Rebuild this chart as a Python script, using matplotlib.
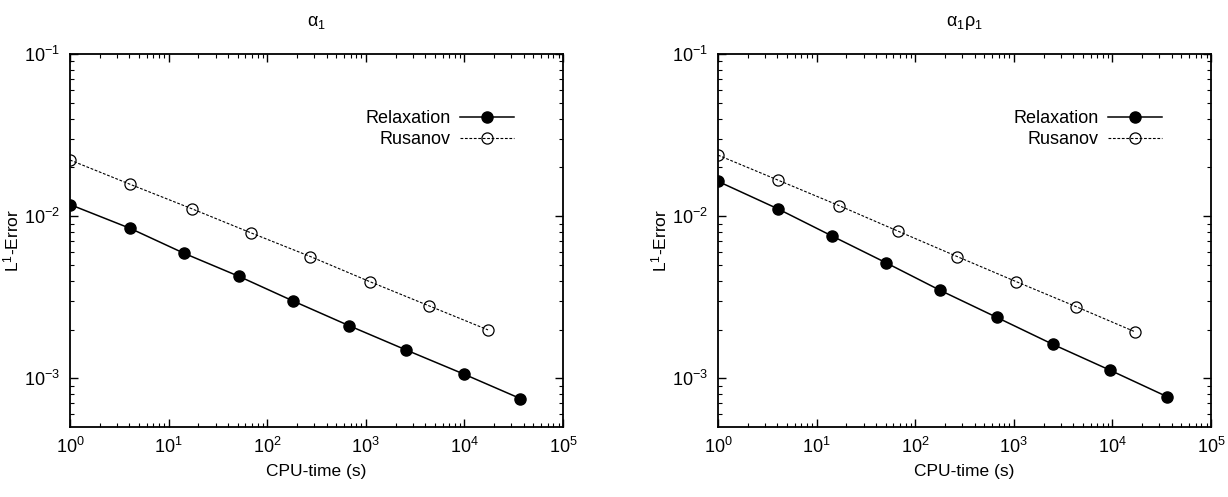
import numpy as np
from matplotlib import pyplot as plt

plt.rcParams['font.family'] = ['Liberation Sans', 'DejaVu Sans']
plt.rcParams['mathtext.fontset'] = 'custom'
plt.rcParams['mathtext.rm'] = 'Liberation Sans'
plt.rcParams['mathtext.it'] = 'Liberation Sans:italic'
plt.rcParams['mathtext.sf'] = 'Liberation Sans'

# data
titles = [r'$\mathrm{\alpha_1}$', r'$\mathrm{\alpha_1\rho_1}$']

relax_time = [
    [1, 4.1, 14.4, 52, 183, 680, 2540, 9960, 37000],
    [1, 4.05, 14.2, 50, 179, 669, 2494, 9550, 36000],
]
relax_err = [
    [0.0118, 0.0084, 0.0059, 0.00425, 0.0030, 0.00211, 0.00150, 0.00106, 0.00075],
    [0.0164, 0.0111, 0.00757, 0.00518, 0.00349, 0.00238, 0.00162, 0.00112, 0.00077],
]
rus_time = [
    [1, 4.1, 17.3, 68.6, 274, 1096, 4377, 17340],
    [1, 4.05, 17, 67.5, 266, 1056, 4275, 16830],
]
rus_err = [
    [0.0222, 0.0157, 0.0111, 0.00789, 0.00564, 0.00395, 0.0028, 0.00199],
    [0.0238, 0.0167, 0.0116, 0.00807, 0.00564, 0.00395, 0.00277, 0.00194],
]

fig = plt.figure(figsize=(12.28, 4.97), dpi=100)
lefts = [0.057, 0.5847]

for k in range(2):
    ax = fig.add_axes([lefts[k], 0.1408, 0.4015, 0.7505])
    ax.plot(relax_time[k], relax_err[k], color='black', linestyle='-', linewidth=1.1,
            marker='o', markersize=8, markerfacecolor='black', label='Relaxation')
    ax.plot(rus_time[k], rus_err[k], color='black', linestyle=(0, (2.5, 1.5)), linewidth=0.8,
            marker='o', markersize=8, markerfacecolor='none', markeredgewidth=0.9,
            label='Rusanov')
    ax.set_xscale('log')
    ax.set_yscale('log')
    ax.set_xlim(1, 1e5)
    ax.set_ylim(10 ** -3.3, 1e-1)
    ax.tick_params(which='both', direction='in', top=True, right=True, labelsize=13, pad=7)
    ax.tick_params(which='major', length=6, width=1)
    ax.tick_params(which='minor', length=3, width=0.8)
    for s in ax.spines.values():
        s.set_linewidth(1.3)
    ax.set_xlabel('CPU-time (s)', fontsize=12.5, labelpad=5)
    ax.set_ylabel(r'L$^{\mathregular{1}}$-Error', fontsize=12.5, labelpad=2)
    ax.set_title(titles[k], fontsize=13, pad=20)
    ax.legend(loc='upper right', bbox_to_anchor=(0.915, 0.868), frameon=False,
              markerfirst=False, fontsize=13, handlelength=3.0, handletextpad=0.5,
              labelspacing=0.2, borderaxespad=0)

plt.savefig('out.png', dpi=100)
